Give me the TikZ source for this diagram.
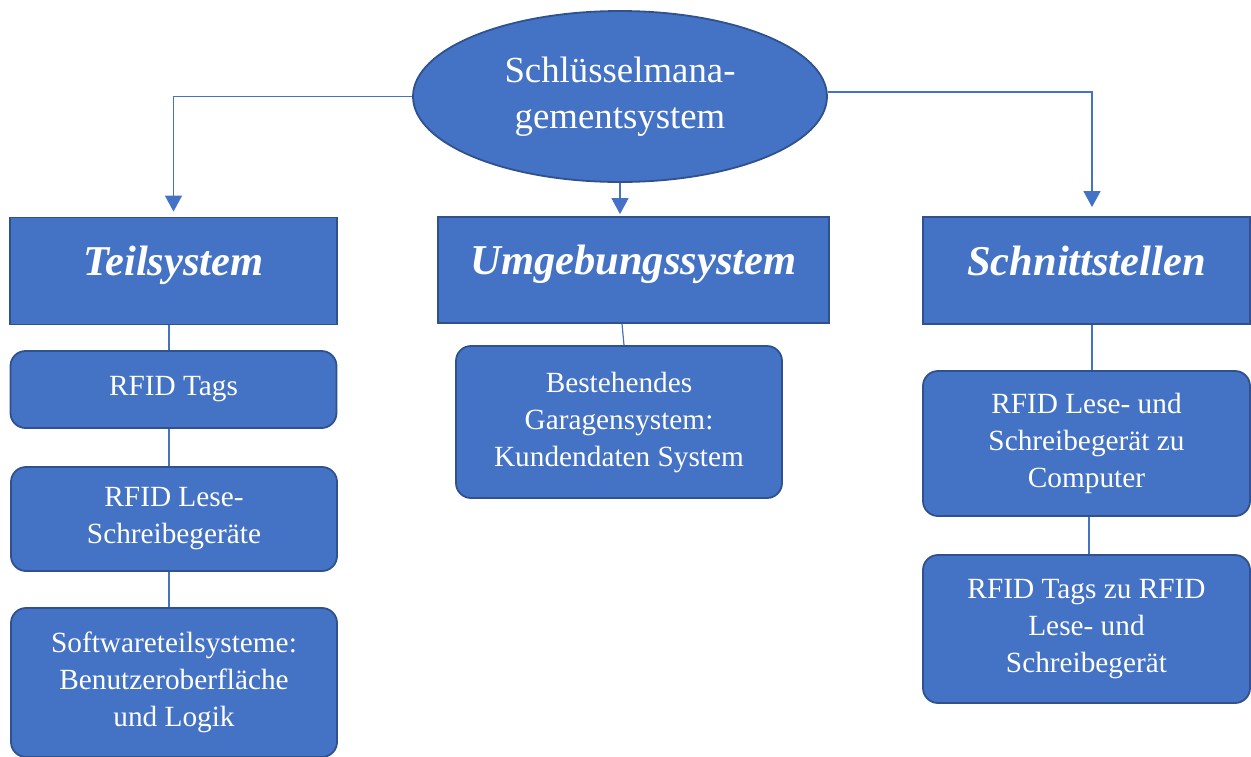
\documentclass[tikz,border=0pt]{standalone}
\usepackage{fontspec}
\setmainfont{Liberation Serif}
\usetikzlibrary{shapes.geometric,arrows.meta}
\definecolor{boxfill}{HTML}{4472C4}
\definecolor{boxline}{HTML}{2F528F}
\tikzset{
  base/.style={fill=boxfill, draw=boxline, line width=1.8pt, text=white, inner sep=0pt, align=center},
  headbox/.style={base, rectangle, minimum width=327pt, minimum height=107pt,
    font=\fontsize{42.5}{50}\selectfont\bfseries\itshape, text height=28pt, text depth=19pt},
  itembox/.style={base, rectangle, rounded corners=15pt, minimum width=326pt,
    font=\fontsize{29.3}{37}\selectfont},
  rootnode/.style={base, ellipse, minimum width=414pt, minimum height=171pt,
    font=\fontsize{36.8}{46}\selectfont},
  link/.style={draw=boxfill, line width=1.2pt},
  arrowlink/.style={link, -{Triangle[width=17pt,length=16pt]}}
}
\begin{document}
\begin{tikzpicture}[x=1pt,y=-1pt]
\useasboundingbox (0,0) rectangle (1251,756);

% root
\node[rootnode] (root) at (620,96.5) {Schlüsselmana-\\gementsystem};

% three main areas
\node[headbox] (teil) at (173.5,271) {Teilsystem};
\node[headbox, minimum width=391pt, minimum height=106pt] (umg) at (633.5,270) {Umgebungssystem};
\node[headbox] (schn) at (1086.5,270.5) {Schnittstellen};

% sub-elements: Teilsystem
\node[itembox, minimum height=77pt] (tags) at (173.5,389.5) {RFID Tags};
\node[itembox, minimum height=104pt] (lese) at (174,519) {RFID Lese-\\Schreibegeräte};
\node[itembox, minimum height=149pt] (soft) at (174,682.5) {Softwareteilsysteme:\\Benutzeroberfläche\\und Logik};

% sub-element: Umgebungssystem
\node[itembox, minimum height=152pt] (best) at (619,422) {Bestehendes\\Garagensystem:\\Kundendaten System};

% sub-elements: Schnittstellen
\node[itembox, minimum width=327pt, minimum height=145pt] (rc) at (1086.5,443.5) {RFID Lese- und\\Schreibegerät zu\\Computer};
\node[itembox, minimum width=327pt, minimum height=148pt] (rt) at (1086.5,629) {RFID Tags zu RFID\\Lese- und\\Schreibegerät};

% arrows from the root
\draw[arrowlink, shorten >=5pt] (root.west) -| (teil.north);
\draw[arrowlink, shorten >=2pt] (root.south) -- (root.south |- umg.north);
\draw[arrowlink, shorten >=9pt] ([yshift=4.5pt]root.east) -| ([xshift=5.5pt]schn.north);

% plain links down the columns
\draw[link] ([xshift=-4.5pt]teil.south) -- ([xshift=-4.5pt]tags.north);
\draw[link] ([xshift=-4.5pt]tags.south) -- ([xshift=-5pt]lese.north);
\draw[link] ([xshift=-5pt]lese.south) -- ([xshift=-5pt]soft.north);
\draw[link] ([xshift=-11.5pt]umg.south) -- ([xshift=5pt]best.north);
\draw[link] ([xshift=5.5pt]schn.south) -- ([xshift=5.5pt]rc.north);
\draw[link] ([xshift=2.5pt]rc.south) -- ([xshift=2.5pt]rt.north);
\end{tikzpicture}
\end{document}
